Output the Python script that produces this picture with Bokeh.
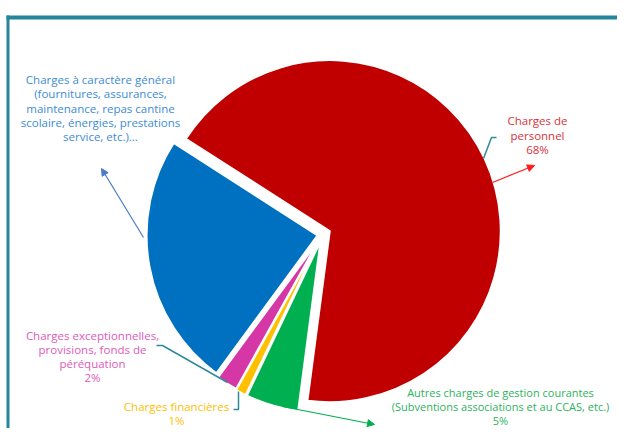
import numpy as np
from bokeh.plotting import figure
from bokeh.models import Range1d, Arrow, NormalHead, ColumnDataSource
from bokeh.core.properties import value
from bokeh.embed import file_html
from bokeh.resources import INLINE

# ---- data ----
categories = ["Charges de personnel",
              "Autres charges de gestion courantes",
              "Charges financières",
              "Charges exceptionnelles",
              "Charges à caractère général"]
values = [68, 5, 1, 2, 24]
slice_colors = ["#C00000", "#00B050", "#FFC000", "#D637A6", "#0070C0"]
label_texts = ["Charges de\npersonnel\n68%",
               "Autres charges de gestion courantes\n(Subventions associations et au CCAS, etc.)\n5%",
               "Charges financières\n1%",
               "Charges exceptionnelles,\nprovisions, fonds de\npéréquation\n2%",
               "Charges à caractère général\n(fournitures, assurances,\nmaintenance, repas cantine\nscolaire, énergies, prestations\nservice, etc.)..."]
label_colors = ["#D6333B", "#2DB25E", "#FFC000", "#DE5BBA", "#3D8CD6"]

# ---- layout (picture pixels) ----
W, H = 617, 428
def Y(sy):
    return H - sy

first_angle = 302.7          # degrees, clockwise from 12 o'clock
explode = [8, 7, 7, 6, 5]
cx, cy = 322, Y(234)
radius = 171

p = figure(width=W, height=H, x_range=Range1d(0, W), y_range=Range1d(0, H),
           output_backend="svg", toolbar_location=None, min_border=0)
p.axis.visible = False
p.grid.visible = False
p.outline_line_color = None
p.background_fill_color = "white"

# frame
teal = "#23869B"
p.line([6, W], [Y(17), Y(17)], line_color=teal, line_width=4)
p.line([7.5, 7.5], [Y(15), Y(H + 5)], line_color=teal, line_width=3)

vals = np.array(values, dtype=float)
before = np.concatenate([[0], np.cumsum(vals)[:-1]])
t1 = first_angle + 360 * before / vals.sum()
t2 = t1 + 360 * vals / vals.sum()
tm = np.radians((t1 + t2) / 2)
ex = np.array(explode, dtype=float)
src = ColumnDataSource(dict(
    x=cx + ex * np.sin(tm),
    y=cy + ex * np.cos(tm),
    start=np.radians(90 - t2),
    end=np.radians(90 - t1),
    color=slice_colors,
    cat=categories,
))
p.wedge(x="x", y="y", radius=radius, start_angle="start", end_angle="end",
        fill_color="color", line_color="white", line_width=2, source=src)

# labels
lab_x = [537, 500, 176, 92, 100]
lab_y = [Y(134.5), Y(406), Y(413), Y(356), Y(107.5)]
lab_size = ["11.5px", "11px", "11.5px", "11.5px", "11.5px"]
for tx, ty, t, c, fs in zip(lab_x, lab_y, label_texts, label_colors, lab_size):
    p.text(x=[tx], y=[ty], text=[t], text_color=c, text_font=value("Open Sans"),
           text_font_size=fs, text_align="center", text_baseline="middle",
           text_line_height=0.95)

# leader lines (teal)
lead = "#2E8B9A"
p.line([496, 491, 483], [Y(137), Y(137), Y(158)], line_color=lead, line_width=1.5)
p.line([156, 162, 227], [Y(345), Y(345), Y(382)], line_color=lead, line_width=1.5)
p.line([233, 238, 238], [Y(409), Y(409), Y(391)], line_color=lead, line_width=1.5)

# arrows
def arrow(x0, y0, x1, y1, col):
    p.add_layout(Arrow(x_start=x0, y_start=Y(y0), x_end=x1, y_end=Y(y1),
                       line_color=col, line_width=1.2,
                       end=NormalHead(size=7, fill_color=col, line_color=col)))

arrow(143, 237, 101, 168, "#4A7CC8")
arrow(492, 182, 534, 165, "#FF1A1A")
arrow(282, 406, 374, 424, "#00B050")

open("out.html", "w").write(file_html(p, INLINE))
